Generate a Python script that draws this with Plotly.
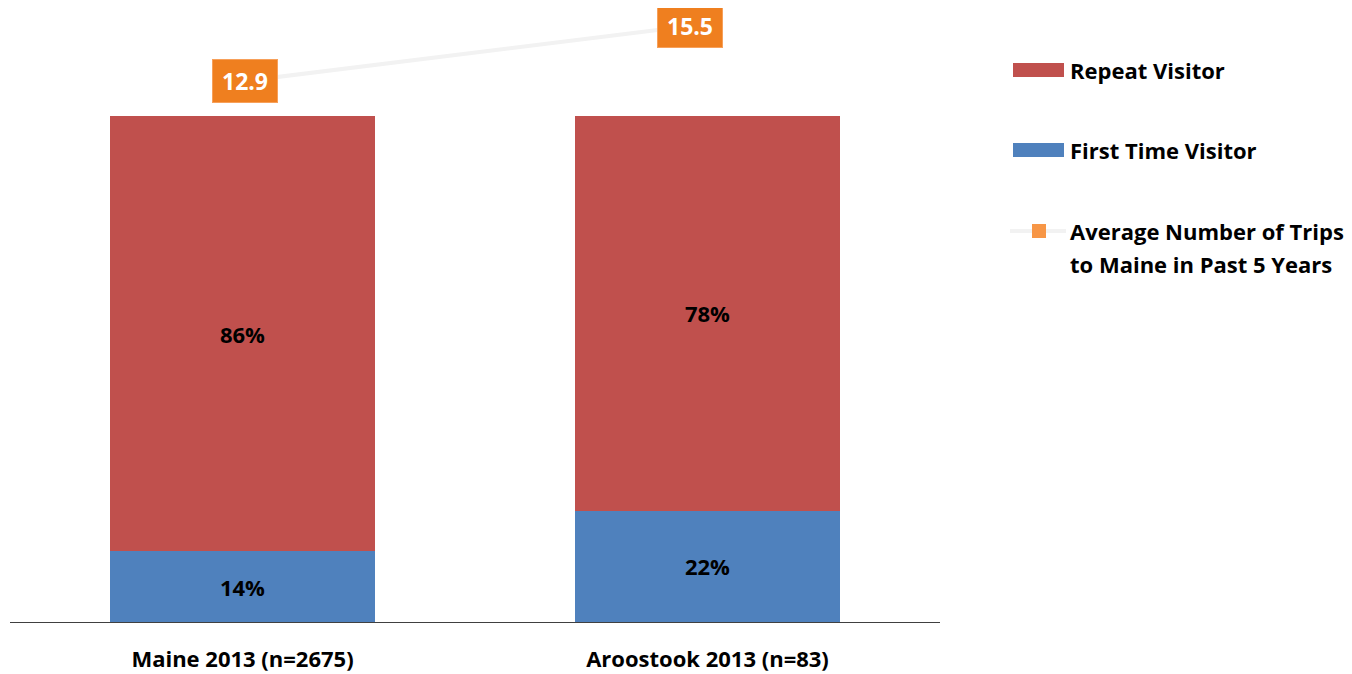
import plotly.graph_objects as go

categories = ["Maine 2013 (n=2675)", "Aroostook 2013 (n=83)"]
first_time = [14, 22]
repeat = [86, 78]
avg_trips = [12.9, 15.5]

FONT = "Open Sans"
RED = "#C0504D"
BLUE = "#4F81BD"
ORANGE = "#EF7F1F"

# plot area in viewport pixels: x 10..940, y 10..622 (page body adds 8px)
PX0, PX1, PY0, PY1 = 10, 940, 10, 622
PW, PH = PX1 - PX0, PY1 - PY0


def px(x):
    return (x - PX0) / PW


def py(y):
    return (PY1 - y) / PH


fig = go.Figure()
fig.add_trace(go.Bar(
    x=categories, y=first_time, name="First Time Visitor", marker_color=BLUE,
    marker_line_width=0, width=0.568,
    text=[f"<b>{v}%</b>" for v in first_time], textposition="inside",
    insidetextanchor="middle", textangle=0,
    textfont=dict(family=FONT, size=22, color="black"),
))
fig.add_trace(go.Bar(
    x=categories, y=repeat, name="Repeat Visitor", marker_color=RED,
    marker_line_width=0, width=0.568,
    text=[f"<b>{v}%</b>" for v in repeat], textposition="inside",
    insidetextanchor="middle", textangle=0,
    textfont=dict(family=FONT, size=22, color="black"),
))
fig.add_trace(go.Scatter(
    x=categories, y=avg_trips, xaxis="x2", yaxis="y2", mode="lines+markers",
    name="Average Number of Trips to Maine in Past 5 Years",
    line=dict(color="#F2F2F2", width=4),
    marker=dict(symbol="square", size=10, color="#F79646"),
))

for c, v in zip(categories, avg_trips):
    fig.add_annotation(
        x=c, y=v, xref="x2", yref="y2", text=f"<b>{v}</b>", showarrow=False,
        font=dict(family=FONT, size=23, color="white"),
        bgcolor=ORANGE, bordercolor="#F7A05A", borderwidth=1,
        width=62, height=40,
    )

# custom legend
for ypx, col, txt in [(70, RED, "Repeat Visitor"), (150, BLUE, "First Time Visitor")]:
    fig.add_shape(type="rect", xref="paper", yref="paper",
                  x0=px(1013), x1=px(1064), y0=py(ypx + 7), y1=py(ypx - 7),
                  fillcolor=col, line_width=0)
    fig.add_annotation(xref="paper", yref="paper", x=px(1068), y=py(ypx),
                       xanchor="left", yanchor="middle",
                       text=f"<b>{txt}</b>", showarrow=False,
                       font=dict(family=FONT, size=22, color="black"))
fig.add_shape(type="line", xref="paper", yref="paper",
              x0=px(1010), x1=px(1066), y0=py(231), y1=py(231),
              line=dict(color="#F2F2F2", width=4))
fig.add_shape(type="rect", xref="paper", yref="paper",
              x0=px(1032), x1=px(1046), y0=py(238), y1=py(224),
              fillcolor="#F79646", line_width=0)
for ypx, txt in [(231, "Average Number of Trips"), (264, "to Maine in Past 5 Years")]:
    fig.add_annotation(xref="paper", yref="paper", x=px(1068), y=py(ypx),
                       xanchor="left", yanchor="middle",
                       text=f"<b>{txt}</b>", showarrow=False,
                       font=dict(family=FONT, size=22, color="black"))

# secondary axes: line/labels sit at x 245 & 690, y scale 21.15 px per trip
c0, c1 = 245, 690
step = c1 - c0
x2_lo = -(c0 - PX0) / step
x2_hi = x2_lo + PW / step
ppu = 55 / 2.6
zero_y = 81 + 12.9 * ppu

fig.update_layout(
    barmode="stack",
    width=1352, height=674,
    margin=dict(l=PX0 - 8, r=1352 - (PX1 - 8), t=PY0 - 8, b=674 - (PY1 - 8)),
    plot_bgcolor="white", paper_bgcolor="white",
    showlegend=False,
    xaxis=dict(range=[-0.5, 1.5], showline=True, linecolor="#404040", linewidth=1,
               ticks="", tickfont=dict(family=FONT, size=22, color="black"),
               ticklabelstandoff=18, showgrid=False, automargin=False,
               tickvals=categories, ticktext=[f"<b>{c}</b>" for c in categories]),
    xaxis2=dict(overlaying="x", range=[x2_lo, x2_hi], visible=False,
                showgrid=False, categoryorder="array", categoryarray=categories),
    yaxis=dict(range=[0, PH / 5.06], visible=False, showgrid=False),
    yaxis2=dict(overlaying="y", range=[-(PY1 - zero_y) / ppu, (zero_y - PY0) / ppu],
                visible=False, showgrid=False),
    font=dict(family=FONT),
)

fig.write_html("out.html")
